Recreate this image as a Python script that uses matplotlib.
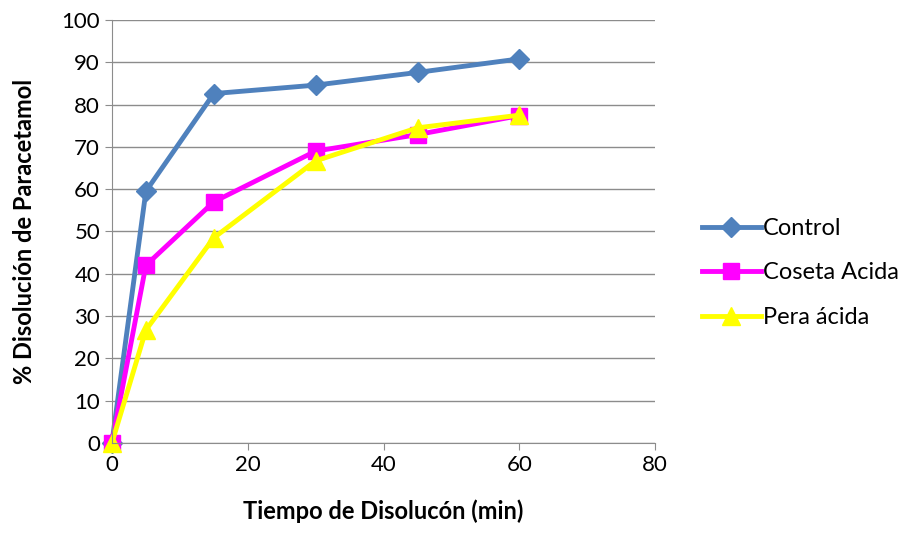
import matplotlib
matplotlib.use("Agg")
from matplotlib import pyplot as plt

plt.rcParams['font.family'] = ['Lato', 'DejaVu Sans']

tiempo = [0, 5, 15, 30, 45, 60]
control = [0, 59.5, 82.6, 84.6, 87.6, 90.8]
coseta_acida = [0, 42.0, 57.0, 69.0, 72.9, 77.4]
pera_acida = [0, 26.7, 48.5, 66.7, 74.5, 77.5]

series = [
    ("Control", control, "#4F81BD", "D", 10),
    ("Coseta Acida", coseta_acida, "#FF00FF", "s", 12),
    ("Pera ácida", pera_acida, "#FFFF00", "^", 13),
]


def main():
    fig = plt.figure(figsize=(9.1, 5.33), dpi=100)
    ax = fig.add_axes([0.123, 0.169, 0.597, 0.7935])
    for name, vals, col, mk, ms in series:
        ax.plot(tiempo, vals, color=col, lw=3.5, marker=mk, markersize=ms,
                label=name, clip_on=False)
    ax.set_xlim(0, 80)
    ax.set_ylim(0, 100)
    ax.set_xticks(range(0, 81, 20))
    ax.set_yticks(range(0, 101, 10))
    ax.yaxis.grid(True, color="#8C8C8C", lw=1)
    ax.set_axisbelow(True)
    for s in ["top", "right"]:
        ax.spines[s].set_visible(False)
    for s in ["left", "bottom"]:
        ax.spines[s].set_color("#8C8C8C")
    ax.tick_params(colors="#8C8C8C", labelcolor="black", labelsize=16,
                   length=5, direction="out")
    ax.set_xlabel("Tiempo de Disolucón (min)", fontsize=17, fontweight="bold",
                  labelpad=18)
    ax.set_ylabel("% Disolución de Paracetamol", fontsize=17, fontweight="bold",
                  labelpad=18)
    fig.legend(loc="center left", bbox_to_anchor=(0.748, 0.488), frameon=False,
               fontsize=17, handlelength=2.5, labelspacing=1.0,
               handletextpad=0.1)
    fig.savefig("out.png", dpi=100)


if __name__ == '__main__':
    main()
